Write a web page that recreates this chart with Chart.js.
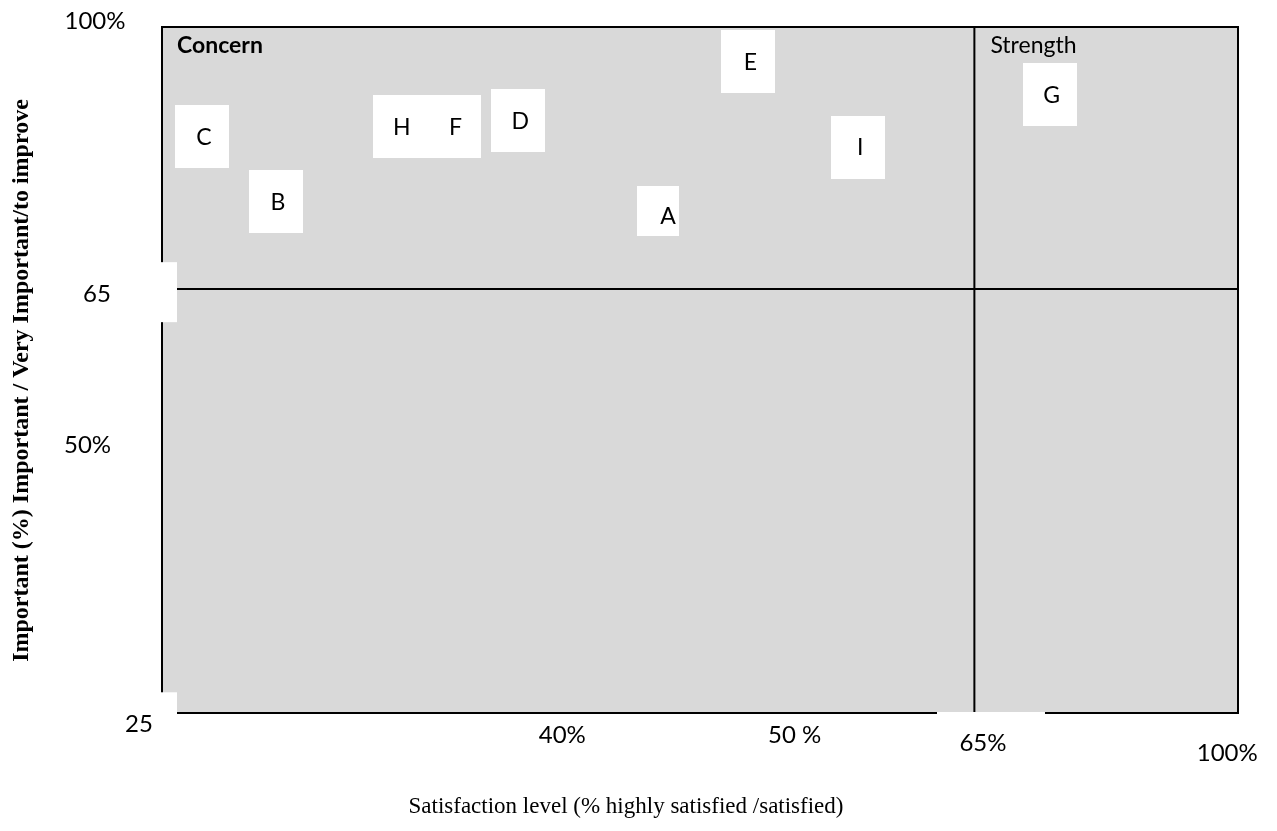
<!DOCTYPE html>
<html>
<head>
<meta charset="utf-8">
<script src="https://cdn.jsdelivr.net/npm/chart.js@4/dist/chart.umd.min.js"></script>
<style>
  html, body { margin: 0; padding: 0; background: #ffffff; overflow: hidden; }
  #c { display: block; }
</style>
</head>
<body>
<canvas id="c" width="1277" height="831"></canvas>
<script>
// Items placed on the satisfaction / importance grid (diagram units 0-100)
const items        = ['A', 'B', 'C', 'D', 'E', 'F', 'G', 'H', 'I'];
const satisfaction = [46.1, 10.6, 3.7, 33.1, 54.5, 27.1, 82.5, 22.1, 64.7];
const importance   = [73.2, 74.5, 84.0, 86.4, 95.0, 85.5, 90.1, 85.5, 82.5];

// Quadrant split lines
const satisfactionSplit = 75.5;
const importanceSplit   = 61.8;

// Axis tick labels and where they sit along their axis
const xTickLabels = ['40%', '50 %', '65%', '100%'];
const xTickValues = [37.2, 58.8, 76.3, 99.0];
const yTickLabels = ['100%', '65', '50%', '25'];
const yTickValues = [101.0, 61.2, 39.1, -1.5];

const quadrantNames = ['Concern', 'Strength'];
const xTitle = 'Satisfaction level (% highly satisfied /satisfied)';
const yTitle = 'Important (%) Important / Very Important/to improve';

// ---- styling ----
const GREY = '#d9d9d9';
const SANS = 'Lato, Carlito, "Open Sans", sans-serif';
const SERIF = '"Liberation Serif", "Times New Roman", serif';
const boxStyle = { w: 54, h: 63, font: '23px ' + SANS };
const boxOverrides = { A: { w: 42, h: 50, dx: 8, dy: 5 } };
// label offsets away from the plot edge, and which labels sit on a white text box
const yTickOffsetX = [-67, -65, -74.5, -23];
const yTickBackdrop = [false, true, false, true];
const xTickOffsetY = [21, 21, 29, 39];
const xTickBackdrop = [false, false, true, false];

function capText(ctx, text, cx, cy, size, align) {
  ctx.textAlign = align || 'center';
  ctx.textBaseline = 'alphabetic';
  ctx.fillText(text, cx, cy + size * 0.358);
}

const quadrantPlugin = {
  id: 'quadrants',
  beforeDatasetsDraw(chart) {
    const { ctx, chartArea: a, scales: { x, y } } = chart;
    ctx.save();
    // grey field
    ctx.fillStyle = GREY;
    ctx.fillRect(a.left, a.top, a.right - a.left, a.bottom - a.top);
    // frame
    ctx.strokeStyle = '#000';
    ctx.lineWidth = 2;
    ctx.strokeRect(a.left, a.top, a.right - a.left, a.bottom - a.top);
    // split lines
    const sx = x.getPixelForValue(satisfactionSplit);
    const sy = y.getPixelForValue(importanceSplit);
    ctx.beginPath();
    ctx.moveTo(sx, a.top); ctx.lineTo(sx, a.bottom);
    ctx.moveTo(a.left, sy); ctx.lineTo(a.right, sy);
    ctx.stroke();

    // white text boxes holding the tick labels
    ctx.fillStyle = '#fff';
    yTickValues.forEach((v, i) => {
      if (!yTickBackdrop[i]) return;
      const py = y.getPixelForValue(v);
      ctx.fillRect(a.left - 90, py - 31, 90 + 15, 60);
    });
    xTickValues.forEach((v, i) => {
      if (!xTickBackdrop[i]) return;
      const px = x.getPixelForValue(v);
      ctx.fillRect(px - 46, a.bottom - 1, 108, 60);
    });

    // tick labels
    ctx.fillStyle = '#000';
    ctx.font = '24px ' + SANS;
    yTickValues.forEach((v, i) => {
      capText(ctx, yTickLabels[i], a.left + yTickOffsetX[i], y.getPixelForValue(v), 24);
    });
    xTickValues.forEach((v, i) => {
      capText(ctx, xTickLabels[i], x.getPixelForValue(v), a.bottom + xTickOffsetY[i], 24);
    });

    // quadrant names
    ctx.font = 'bold 23px ' + SANS;
    capText(ctx, quadrantNames[0], a.left + 15, a.top + 18, 23, 'left');
    ctx.font = '23px ' + SANS;
    capText(ctx, quadrantNames[1], sx + 16, a.top + 18, 23, 'left');

    // axis titles
    ctx.font = '23px ' + SERIF;
    ctx.textAlign = 'center';
    ctx.textBaseline = 'alphabetic';
    ctx.fillText(xTitle, (a.left + a.right) / 2 - 74, a.bottom + 100);
    ctx.save();
    ctx.translate(28, 380.5);
    ctx.rotate(-Math.PI / 2);
    ctx.font = 'bold 24px ' + SERIF;
    ctx.fillText(yTitle, 0, 0);
    ctx.restore();
    ctx.restore();
  },
  afterDatasetsDraw(chart) {
    const { ctx } = chart;
    const meta = chart.getDatasetMeta(0);
    ctx.save();
    meta.data.forEach((pt, i) => {
      const name = items[i];
      const o = Object.assign({ dx: 0, dy: 0 }, boxStyle, boxOverrides[name] || {});
      ctx.fillStyle = '#fff';
      ctx.fillRect(Math.round(pt.x - o.w / 2), Math.round(pt.y - o.h / 2), o.w, o.h);
      ctx.fillStyle = '#000';
      ctx.font = boxStyle.font;
      capText(ctx, name, pt.x + 2 + o.dx, pt.y + o.dy, 23);
    });
    ctx.restore();
  }
};

new Chart(document.getElementById('c'), {
  type: 'scatter',
  data: {
    datasets: [{
      label: 'Items',
      data: items.map((n, i) => ({ x: satisfaction[i], y: importance[i] })),
      pointRadius: 0,
      pointHoverRadius: 0
    }]
  },
  options: {
    responsive: false,
    animation: false,
    devicePixelRatio: 1,
    layout: { padding: { left: 162, right: 39, top: 27, bottom: 118 } },
    scales: {
      x: { type: 'linear', min: 0, max: 100, display: false },
      y: { type: 'linear', min: 0, max: 100, display: false }
    },
    plugins: { legend: { display: false }, tooltip: { enabled: false } }
  },
  plugins: [quadrantPlugin]
});
</script>
</body>
</html>
